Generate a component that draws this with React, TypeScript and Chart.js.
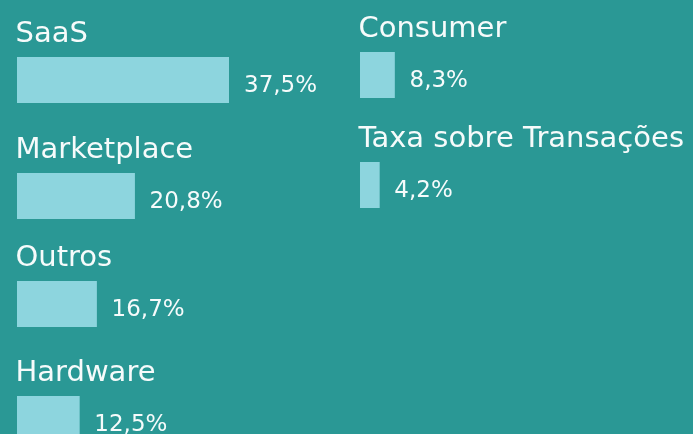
import React, { useEffect, useRef } from "react";
import { Chart, registerables } from "chart.js";

Chart.register(...registerables);

// ---- data ----
const categories = ["SaaS", "Marketplace", "Outros", "Hardware", "Consumer", "Taxa sobre Transações"];
const shares = [37.5, 20.8, 16.7, 12.5, 8.3, 4.2];
// axis maximum of each small bar's own scale
const axisMax = [37.5, 37.5, 44.5, 42.5, 51, 46];

// ---- layout ----
const columnLeft = [17, 17, 17, 17, 360, 360];
const barTop = [57, 173, 281, 396, 52, 162];

const BG = "#2a9895";
const BAR = "#8dd5de";
const TEXT = "#f6fbfb";
const FONT = '"DejaVu Sans", sans-serif';
const PADL = 10;
const PLOT = 212;
const TITLE = 45;
const BAR_H = 46;
const PAGE_W = 693;

const fmt = (v: number) => v.toFixed(1).replace(".", ",") + "%";

function Item({ idx }: { idx: number }) {
  const ref = useRef<HTMLCanvasElement>(null);
  const left = columnLeft[idx] - PADL;
  const W = PAGE_W - left;
  const H = TITLE + BAR_H;

  useEffect(() => {
    const labelPlugin = {
      id: "itemLabels",
      afterDatasetsDraw(chart: any) {
        const { ctx, chartArea } = chart;
        const bar = chart.getDatasetMeta(0).data[0];
        ctx.save();
        ctx.fillStyle = TEXT;
        ctx.textAlign = "left";
        ctx.textBaseline = "alphabetic";
        ctx.font = `29px ${FONT}`;
        ctx.fillText(categories[idx], chartArea.left - 1.5, chartArea.top - 15);
        ctx.font = `23px ${FONT}`;
        ctx.fillText(fmt(shares[idx]), bar.x + 15, bar.y + 12);
        ctx.restore();
      },
    };
    const chart = new Chart(ref.current as HTMLCanvasElement, {
      type: "bar",
      data: {
        labels: [categories[idx]],
        datasets: [
          {
            data: [shares[idx]],
            backgroundColor: BAR,
            borderWidth: 0,
            barPercentage: 1,
            categoryPercentage: 1,
          },
        ],
      },
      options: {
        indexAxis: "y",
        responsive: false,
        animation: false,
        layout: { padding: { left: PADL, top: TITLE, right: W - PADL - PLOT, bottom: 0 } },
        scales: {
          x: { display: false, min: 0, max: axisMax[idx] },
          y: { display: false },
        },
        plugins: { legend: { display: false }, tooltip: { enabled: false }, title: { display: false } },
      },
      plugins: [labelPlugin],
    } as any);
    return () => chart.destroy();
  }, [idx, W]);

  return (
    <canvas
      ref={ref}
      width={W}
      height={H}
      style={{ position: "absolute", left, top: barTop[idx] - TITLE, width: W, height: H }}
    />
  );
}

export default function App() {
  return (
    <div
      style={{
        position: "fixed",
        left: 0,
        top: 0,
        width: PAGE_W,
        height: 434,
        background: BG,
        overflow: "hidden",
      }}
    >
      {categories.map((_, i) => (
        <Item key={i} idx={i} />
      ))}
    </div>
  );
}
